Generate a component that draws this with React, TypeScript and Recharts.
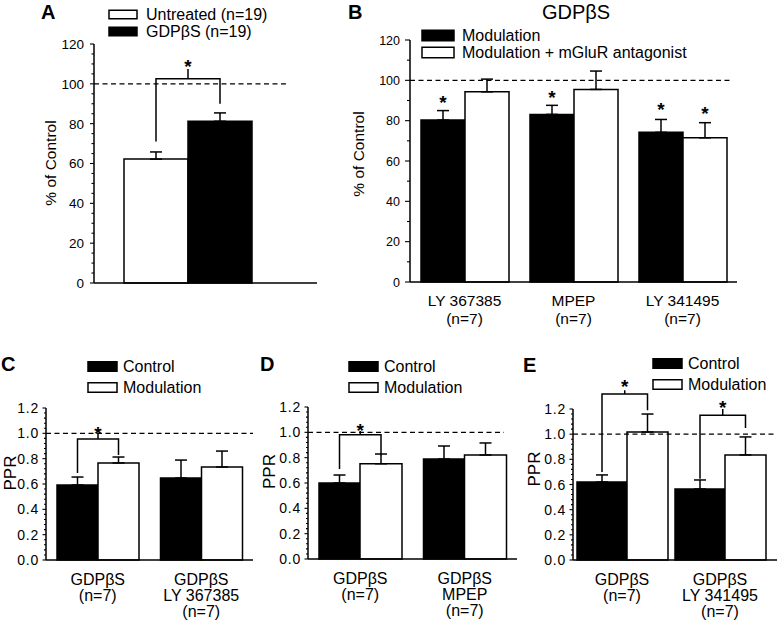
import React from 'react';
import { BarChart, Bar, XAxis, YAxis, ErrorBar, ReferenceLine, Legend, LabelList } from 'recharts';

const FONT = '"Liberation Sans", Arial, Helvetica, sans-serif';

// ---------------- Panel A ----------------
const aCategories = [''];
const aUntreated = [62.2];
const aUntreatedErr = [3.6];
const aGdp = [81.2];
const aGdpErr = [4.2];
const aMajorTicks = [0, 20, 40, 60, 80, 100, 120];
const aMinorStep = 5;
const aBracket = [{ left: 71, right: 90, top: 102.5, peak: 107.5, star: 111 }];
const aLegendOrder = ['Untreated (n=19)', 'GDPβS (n=19)'];

// ---------------- Panel B ----------------
const bCategories = ['LY 367385\n(n=7)', 'MPEP\n(n=7)', 'LY 341495\n(n=7)'];
const bModulation = [80.3, 83.1, 74.2];
const bModulationErr = [4.7, 4.5, 6.4];
const bAntagonist = [94.3, 95.5, 71.5];
const bAntagonistErr = [6.3, 9.1, 7.5];
const bModStar = [91.2, 93.4, 87.9];
const bAntStar: (number | null)[] = [null, null, 85.9];
const bMajorTicks = [0, 20, 40, 60, 80, 100, 120];
const bMinorStep = 10;
const bLegendOrder = ['Modulation', 'Modulation + mGluR antagonist'];

// ---------------- Panels C, D, E ----------------
const pprMajorTicks = [0, 0.2, 0.4, 0.6, 0.8, 1.0, 1.2];
const pprMinorStep = 0.04;
const pprLegendOrder = ['Control', 'Modulation'];

const cCategories = ['GDPβS\n(n=7)', 'GDPβS\nLY 367385\n(n=7)'];
const cControl = [0.592, 0.647];
const cControlErr = [0.063, 0.142];
const cModulation = [0.766, 0.734];
const cModulationErr = [0.047, 0.126];
const cBrackets = [{ left: 0.687, right: 0.829, top: 0.955, peak: 1.0, star: 1.034 }, null];

const dCategories = ['GDPβS\n(n=7)', 'GDPβS\nMPEP\n(n=7)'];
const dControl = [0.6, 0.789];
const dControlErr = [0.063, 0.103];
const dModulation = [0.752, 0.821];
const dModulationErr = [0.077, 0.095];
const dBrackets = [{ left: 0.71, right: 0.82, top: 0.98, peak: 1.01, star: 1.05 }, null];

const eCategories = ['GDPβS\n(n=7)', 'GDPβS\nLY 341495\n(n=7)'];
const eControl = [0.62, 0.564];
const eControlErr = [0.056, 0.072];
const eModulation = [1.017, 0.835];
const eModulationErr = [0.143, 0.143];
const eBrackets = [
  { left: 0.7, right: 1.19, top: 1.32, peak: 1.35, star: 1.415 },
  { left: 0.645, right: 1.05, top: 1.15, peak: 1.2, star: 1.248 },
];

// ---------------- helpers ----------------
const buildTicks = (max: number, step: number) => {
  const out: number[] = [];
  const n = Math.round(max / step);
  for (let i = 0; i <= n; i++) out.push(Number((i * step).toFixed(4)));
  return out;
};

const isMajorOf = (majors: number[]) => (v: number) => majors.some((m) => Math.abs(m - v) < 1e-6);

const makeYTick = (
  majors: number[],
  fmt: (v: number) => string,
  fontSize: number,
  labelGap: number,
  majorLen: number,
  minorLen: number,
  letterSpacing = 0
) => {
  const isMajor = isMajorOf(majors);
  return (props: any) => {
    const { x, y, payload } = props;
    const v = Number(payload.value);
    const major = isMajor(v);
    return (
      <g>
        <line x1={x - (major ? majorLen : minorLen)} x2={x} y1={y} y2={y} stroke="#000" strokeWidth={1.1} />
        {major && (
          <text
            x={x - labelGap}
            y={y}
            dy="0.36em"
            textAnchor="end"
            fontSize={fontSize}
            fontFamily={FONT}
            letterSpacing={letterSpacing}
            fill="#000"
          >
            {fmt(v)}
          </text>
        )}
      </g>
    );
  };
};

const makeXTick = (fontSize: number, firstDy: number, lineH: number) => (props: any) => {
  const { x, y, payload } = props;
  const lines = String(payload.value).split('\n');
  return (
    <g>
      {lines.map((l, i) => (
        <text
          key={i}
          x={x}
          y={y + firstDy + i * lineH}
          textAnchor="middle"
          fontSize={fontSize}
          fontFamily={FONT}
          fill="#000"
        >
          {l}
        </text>
      ))}
    </g>
  );
};

const makeYLabel = (text: string, cx: number, dyCenter: number, fontSize: number) => (props: any) => {
  const vb = props.viewBox || {};
  const cy = (vb.y ?? 0) + (vb.height ?? 0) / 2 + dyCenter;
  return (
    <text
      x={cx}
      y={cy}
      dy="0.36em"
      transform={`rotate(-90 ${cx} ${cy})`}
      textAnchor="middle"
      fontSize={fontSize}
      fontFamily={FONT}
      fill="#000"
    >
      {text}
    </text>
  );
};

const makeLegend = (cfg: {
  boxW: number;
  boxH: number;
  rowH: number;
  textX: number;
  fontSize: number;
  w: number;
  order: string[];
}) =>
  (props: any) => {
    const items = [...(props.payload || [])].sort(
      (a: any, b: any) => cfg.order.indexOf(String(a.value)) - cfg.order.indexOf(String(b.value))
    );
    return (
      <svg width={cfg.w} height={items.length * cfg.rowH} style={{ display: 'block', overflow: 'visible' }}>
        {items.map((it: any, i: number) => {
          const cy = i * cfg.rowH + cfg.rowH / 2;
          const fill = it.payload?.fill ?? it.color;
          return (
            <g key={i}>
              <rect x={1} y={cy - cfg.boxH / 2} width={cfg.boxW} height={cfg.boxH} fill={fill} stroke="#000" strokeWidth={1.5} />
              <text x={cfg.textX} y={cy} dy="0.36em" fontSize={cfg.fontSize} fontFamily={FONT} fill="#000">
                {it.value}
              </text>
            </g>
          );
        })}
      </svg>
    );
  };

const dashedShape = (trimRight: number) => (props: any) => {
  const { x1, y1, x2, y2 } = props;
  return <line x1={x1} y1={y1} x2={x2 - trimRight} y2={y2} stroke="#000" strokeWidth={1.3} strokeDasharray="5 3.5" />;
};

const Star = ({ x, y, size = 19 }: { x: number; y: number; size?: number }) => (
  <text x={x} y={y + size * 0.57} textAnchor="middle" fontSize={size} fontWeight="bold" fontFamily={FONT} fill="#000">
    *
  </text>
);

// label content: draws star above a bar (value object {v, star})
const starContent = (props: any) => {
  const val = props.value;
  if (!val || val.star == null) return null;
  const vb = props.viewBox || props;
  const { x, y, width, height } = vb;
  const ppu = height / val.v;
  const base = y + height;
  return <Star x={x + width / 2} y={base - val.star * ppu} />;
};

// label content: draws bracket from previous bar center to this bar center
const bracketContent = (prevWidth: number) => (props: any) => {
  const val = props.value;
  if (!val || !val.bracket) return null;
  const vb = props.viewBox || props;
  const { x, y, width, height } = vb;
  const b = val.bracket;
  const ppu = height / val.v;
  const base = y + height;
  const py = (t: number) => base - t * ppu;
  const xl = x - prevWidth / 2;
  const xr = x + width / 2;
  const xm = (xl + xr) / 2;
  return (
    <g>
      <path
        d={`M${xl},${py(b.left)} V${py(b.top)} H${xr} V${py(b.right)} M${xm},${py(b.top)} V${py(b.peak)}`}
        stroke="#000"
        strokeWidth={1.5}
        fill="none"
      />
      <Star x={xm} y={py(b.star)} />
    </g>
  );
};

// ---------------- data rows ----------------
const aData = aCategories.map((name, i) => ({
  name,
  untreated: aUntreated[i],
  untreatedErr: [0, aUntreatedErr[i]],
  gdp: aGdp[i],
  gdpErr: [0, aGdpErr[i]],
  bracket: aBracket[i],
}));

const bData = bCategories.map((name, i) => ({
  name,
  mod: bModulation[i],
  modErr: [0, bModulationErr[i]],
  ant: bAntagonist[i],
  antErr: [0, bAntagonistErr[i]],
  modStar: bModStar[i],
  antStar: bAntStar[i],
}));

const pprRows = (cats: string[], ctl: number[], ctlErr: number[], mod: number[], modErr: number[], br: any[]) =>
  cats.map((name, i) => ({
    name,
    control: ctl[i],
    controlErr: [0, ctlErr[i]],
    modulation: mod[i],
    modulationErr: [0, modErr[i]],
    bracket: br[i],
  }));

const cData = pprRows(cCategories, cControl, cControlErr, cModulation, cModulationErr, cBrackets);
const dData = pprRows(dCategories, dControl, dControlErr, dModulation, dModulationErr, dBrackets);
const eData = pprRows(eCategories, eControl, eControlErr, eModulation, eModulationErr, eBrackets);

// ---------------- panels ----------------
const PanelA = () => (
  <BarChart width={330} height={310} data={aData} margin={{ top: 44, right: 13, bottom: 0, left: 0 }} barGap={0}>
    <XAxis
      dataKey="name"
      tick={false}
      tickLine={false}
      height={27}
      axisLine={{ stroke: '#000', strokeWidth: 1.5 }}
      padding={{ left: 0, right: 36 }}
    />
    <YAxis
      width={94}
      domain={[0, 120]}
      ticks={buildTicks(120, aMinorStep)}
      interval={0}
      tickLine={false}
      tickSize={0}
      tickMargin={0}
      axisLine={{ stroke: '#000', strokeWidth: 1.5 }}
      tick={makeYTick(aMajorTicks, (v) => String(v), 13.5, 10, 4, 2.5)}
      label={makeYLabel('% of Control', 50, -0.5, 15.5)}
    />
    <ReferenceLine y={100} shape={dashedShape(30)} />
    <Bar dataKey="untreated" name="Untreated (n=19)" fill="#ffffff" stroke="#000" strokeWidth={1.5} barSize={64} isAnimationActive={false}>
      <ErrorBar dataKey="untreatedErr" width={6} stroke="#000" strokeWidth={1.5} direction="y" />
    </Bar>
    <Bar dataKey="gdp" name="GDPβS (n=19)" fill="#000000" stroke="#000" strokeWidth={1.5} barSize={64} isAnimationActive={false}>
      <ErrorBar dataKey="gdpErr" width={6} stroke="#000" strokeWidth={1.5} direction="y" />
      <LabelList dataKey={(d: any) => ({ v: d.gdp, bracket: d.bracket })} content={bracketContent(64)} />
    </Bar>
    <Legend
      layout="vertical"
      align="center"
      verticalAlign="middle"
      wrapperStyle={{ left: 108, top: 5.5, width: 'auto', height: 'auto' }}
      content={makeLegend({ boxW: 28, boxH: 8.5, rowH: 17, textX: 38, fontSize: 16, w: 200, order: aLegendOrder })}
    />
  </BarChart>
);

const PanelB = () => (
  <BarChart width={447} height={330} data={bData} margin={{ top: 40, right: 40, bottom: 0, left: 0 }} barGap={0}>
    <XAxis
      dataKey="name"
      height={48}
      interval={0}
      tickLine={false}
      tickSize={0}
      tickMargin={0}
      axisLine={{ stroke: '#000', strokeWidth: 1.5 }}
      tick={makeXTick(15.5, 23.8, 17.7)}
    />
    <YAxis
      width={80}
      domain={[0, 120]}
      ticks={buildTicks(120, bMinorStep)}
      interval={0}
      tickLine={false}
      tickSize={0}
      tickMargin={0}
      axisLine={{ stroke: '#000', strokeWidth: 1.5 }}
      tick={makeYTick(bMajorTicks, (v) => String(v), 12.5, 10, 5, 3)}
      label={makeYLabel('% of Control', 28, -7, 15.5)}
    />
    <ReferenceLine y={100} shape={dashedShape(5)} />
    <Bar dataKey="mod" name="Modulation" fill="#000000" stroke="#000" strokeWidth={1.5} barSize={44} isAnimationActive={false}>
      <ErrorBar dataKey="modErr" width={6} stroke="#000" strokeWidth={1.5} direction="y" />
      <LabelList dataKey={(d: any) => ({ v: d.mod, star: d.modStar })} content={starContent} />
    </Bar>
    <Bar dataKey="ant" name="Modulation + mGluR antagonist" fill="#ffffff" stroke="#000" strokeWidth={1.5} barSize={44} isAnimationActive={false}>
      <ErrorBar dataKey="antErr" width={6} stroke="#000" strokeWidth={1.5} direction="y" />
      <LabelList dataKey={(d: any) => ({ v: d.ant, star: d.antStar })} content={starContent} />
    </Bar>
    <Legend
      layout="vertical"
      align="center"
      verticalAlign="middle"
      wrapperStyle={{ left: 91, top: 26.5, width: 'auto', height: 'auto' }}
      content={makeLegend({ boxW: 32, boxH: 10.5, rowH: 17, textX: 41, fontSize: 16, w: 320, order: bLegendOrder })}
    />
  </BarChart>
);

type PprProps = {
  data: any[];
  width: number;
  yWidth: number;
  marginTop: number;
  marginRight: number;
  xHeight: number;
  padRight: number;
  ctlSize: number;
  modSize: number;
  refTrim: number;
  labelCx: number;
  labelDy: number;
  legendLeft: number;
  legendTop: number;
};

const PprPanel = (p: PprProps) => (
  <BarChart
    width={p.width}
    height={301}
    data={p.data}
    margin={{ top: p.marginTop, right: p.marginRight, bottom: 0, left: 0 }}
    barGap={0}
  >
    <XAxis
      dataKey="name"
      height={p.xHeight}
      interval={0}
      tickLine={false}
      tickSize={0}
      tickMargin={0}
      padding={{ left: 0, right: p.padRight }}
      axisLine={{ stroke: '#000', strokeWidth: 1.5 }}
      tick={makeXTick(16, 24.5, 16.3)}
    />
    <YAxis
      width={p.yWidth}
      domain={[0, 1.2]}
      ticks={buildTicks(1.2, pprMinorStep)}
      interval={0}
      tickLine={false}
      tickSize={0}
      tickMargin={0}
      axisLine={{ stroke: '#000', strokeWidth: 1.5 }}
      tick={makeYTick(pprMajorTicks, (v) => v.toFixed(1), 14, 7, 3.5, 2, 0.8)}
      label={makeYLabel('PPR', p.labelCx, p.labelDy, 17)}
    />
    <ReferenceLine y={1.0} shape={dashedShape(p.refTrim)} />
    <Bar dataKey="control" name="Control" fill="#000000" stroke="#000" strokeWidth={1.5} barSize={p.ctlSize} isAnimationActive={false}>
      <ErrorBar dataKey="controlErr" width={6} stroke="#000" strokeWidth={1.5} direction="y" />
    </Bar>
    <Bar dataKey="modulation" name="Modulation" fill="#ffffff" stroke="#000" strokeWidth={1.5} barSize={p.modSize} isAnimationActive={false}>
      <ErrorBar dataKey="modulationErr" width={6} stroke="#000" strokeWidth={1.5} direction="y" />
      <LabelList dataKey={(d: any) => ({ v: d.modulation, bracket: d.bracket })} content={bracketContent(p.ctlSize)} />
    </Bar>
    <Legend
      layout="vertical"
      align="center"
      verticalAlign="middle"
      wrapperStyle={{ left: p.legendLeft, top: p.legendTop, width: 'auto', height: 'auto' }}
      content={makeLegend({ boxW: 29, boxH: 9.5, rowH: 21, textX: 36, fontSize: 16, w: 150, order: pprLegendOrder })}
    />
  </BarChart>
);

export default function App() {
  return (
    <div
      style={{
        position: 'absolute',
        left: 0,
        top: 0,
        width: 777,
        height: 621,
        background: '#ffffff',
        fontFamily: FONT,
        overflow: 'hidden',
      }}
    >
      <div style={{ position: 'absolute', left: 0, top: 0 }}>
        <PanelA />
      </div>
      <div style={{ position: 'absolute', left: 330, top: 0 }}>
        <PanelB />
      </div>
      <div style={{ position: 'absolute', left: 0, top: 320 }}>
        <PprPanel
          data={cData}
          width={255}
          yWidth={46}
          marginTop={88}
          marginRight={2}
          xHeight={61}
          padRight={0}
          ctlSize={41}
          modSize={41}
          refTrim={0}
          labelCx={10}
          labelDy={-11}
          legendLeft={87}
          legendTop={35.5}
        />
      </div>
      <div style={{ position: 'absolute', left: 255, top: 320 }}>
        <PprPanel
          data={dData}
          width={262}
          yWidth={53}
          marginTop={87}
          marginRight={0}
          xHeight={62}
          padRight={0}
          ctlSize={41}
          modSize={42}
          refTrim={13}
          labelCx={14}
          labelDy={-11.5}
          legendLeft={93}
          legendTop={35.5}
        />
      </div>
      <div style={{ position: 'absolute', left: 517, top: 320 }}>
        <PprPanel
          data={eData}
          width={260}
          yWidth={56}
          marginTop={89}
          marginRight={0}
          xHeight={61}
          padRight={8}
          ctlSize={50}
          modSize={41}
          refTrim={0}
          labelCx={17}
          labelDy={-15.5}
          legendLeft={135}
          legendTop={33}
        />
      </div>
      <svg
        width={777}
        height={621}
        style={{ position: 'absolute', left: 0, top: 0, pointerEvents: 'none' }}
      >
        <g fontFamily={FONT} fill="#000">
          <text x={41} y={18.5} fontSize={20} fontWeight="bold">A</text>
          <text x={348} y={18.5} fontSize={20} fontWeight="bold">B</text>
          <text x={576} y={18.5} fontSize={20} textAnchor="middle">GDPβS</text>
          <text x={1} y={371} fontSize={20} fontWeight="bold">C</text>
          <text x={260} y={371} fontSize={20} fontWeight="bold">D</text>
          <text x={523} y={372} fontSize={20} fontWeight="bold">E</text>
        </g>
      </svg>
    </div>
  );
}
